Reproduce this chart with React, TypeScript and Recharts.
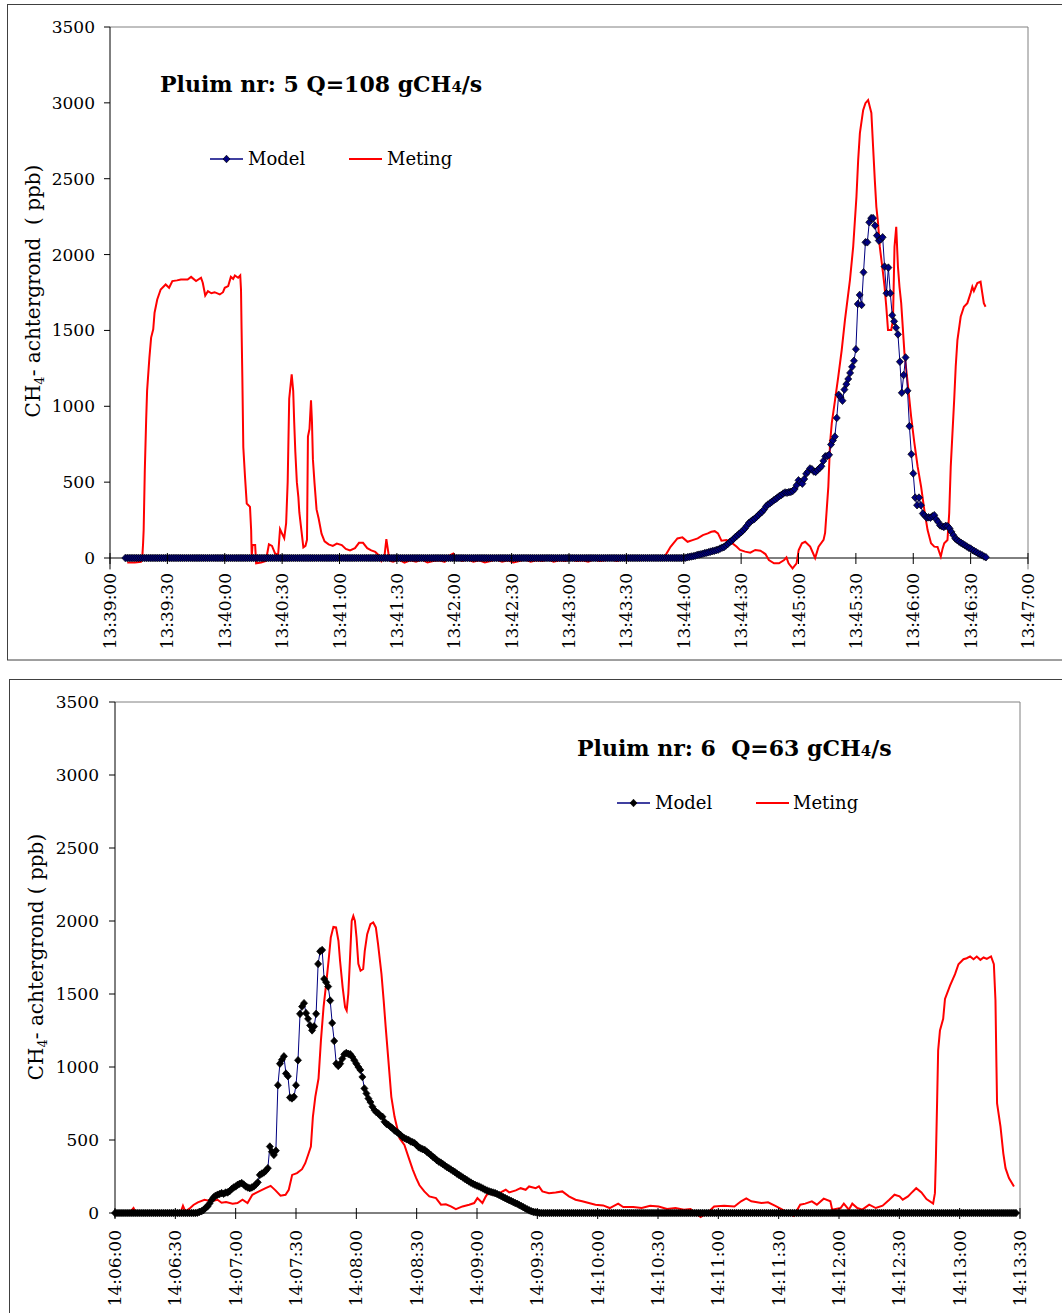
import { Line, LineChart, ReferenceLine, XAxis, YAxis } from 'recharts'

const FONT = '"DejaVu Serif", serif'

// y axis of both charts
const yTicks = [0, 500, 1000, 1500, 2000, 2500, 3000, 3500]

// ---- Pluim nr 5 ----
const ticks1 = [
  '13:39:00', '13:39:30', '13:40:00', '13:40:30', '13:41:00', '13:41:30', '13:42:00', '13:42:30', '13:43:00',
  '13:43:30', '13:44:00', '13:44:30', '13:45:00', '13:45:30', '13:46:00', '13:46:30', '13:47:00',
]
// model: one sample per second, first one 8 s after 13:39:00
const model1Start = 8
const model1 = [
  0,0,0,0,0,0,0,0,0,0,0,0,0,0,0,0,0,0,0,0,
  0,0,0,0,0,0,0,0,0,0,0,0,0,0,0,0,0,0,0,0,
  0,0,0,0,0,0,0,0,0,0,0,0,0,0,0,0,0,0,0,0,
  0,0,0,0,0,0,0,0,0,0,0,0,0,0,0,0,0,0,0,0,
  0,0,0,0,0,0,0,0,0,0,0,0,0,0,0,0,0,0,0,0,
  0,0,0,0,0,0,0,0,0,0,0,0,0,0,0,0,0,0,0,0,
  0,0,0,0,0,0,0,0,0,0,0,0,0,0,0,0,0,0,0,0,
  0,0,0,0,0,0,0,0,0,0,0,0,0,0,0,0,0,0,0,0,
  0,0,0,0,0,0,0,0,0,0,0,0,0,0,0,0,0,0,0,0,
  0,0,0,0,0,0,0,0,0,0,0,0,0,0,0,0,0,0,0,0,
  0,0,0,0,0,0,0,0,0,0,0,0,0,0,0,0,0,0,0,0,
  0,0,0,0,0,0,0,0,0,0,0,0,0,0,0,0,0,0,0,0,
  0,0,0,0,0,0,0,0,0,0,0,0,0,0,0,0,0,0,0,0,
  0,0,0,0,0,0,0,0,0,0,0,0,0,0,0,0,0,0,0,0,
  0,0,0,0,0,0,0,0,0,0,0,0,
  0, 2, 5, 8, 10, 12, 15, 20, 22, 25,
  28, 32, 35, 38, 42, 45, 48, 52, 55, 62,
  68, 72, 82, 92, 105, 114, 125, 138, 148, 160,
  170, 182, 195, 212, 230, 240, 250, 258, 270, 282,
  295, 305, 320, 340, 352, 360, 370, 380, 388, 398,
  408, 415, 425, 432, 430, 434, 436, 442, 455, 480,
  512, 500, 490, 520, 555, 570, 590, 585, 570, 568,
  580, 592, 605, 640, 670, 672, 680, 748, 775, 800,
  923, 1076, 1060, 1037, 1110, 1146, 1180, 1220, 1260, 1300,
  1376, 1674, 1734, 1668, 1883, 2081, 2081, 2213, 2240, 2240,
  2191, 2125, 2092, 2100, 2114, 1921, 1745, 1914, 1745, 1600,
  1560, 1518, 1474, 1294, 1089, 1206, 1322, 1102, 869, 684,
  557, 398, 348, 398, 348, 293, 280, 266, 268, 266,
  275, 282, 255, 238, 215, 209, 205, 212, 209, 195,
  172, 150, 128, 118, 108, 100, 92, 84, 76, 68,
  62, 52, 45, 38, 30, 24, 18, 10, 5,
]
// measurement: [seconds after 13:39:00, ppb]
const meting1: [number, number][] = [
  [9, -30], [13, -30], [16.2, -25], [16.8, -13], [17.3, 96], [17.6, 184], [18.2, 578], [18.9, 906], [19.4, 1103],
  [20.6, 1321], [21.5, 1453], [22.6, 1507], [23.3, 1617], [24.7, 1704], [26.5, 1770], [29.1, 1803], [30.9, 1781],
  [32.6, 1825], [35, 1830], [37.1, 1836], [40.6, 1836], [42.4, 1853], [45, 1825], [47.6, 1847], [48.5, 1814],
  [49.8, 1730], [51.2, 1759], [53, 1745], [54.7, 1752], [57.4, 1737], [59.1, 1752], [60, 1781], [61.8, 1792],
  [63.2, 1853], [64.4, 1840], [65.3, 1862], [67, 1847], [68.1, 1862], [68.5, 1770], [68.8, 1507], [69.2, 1190],
  [69.7, 731], [70.6, 534], [71.5, 359], [73.2, 337], [73.8, 184], [74.1, 9], [74.5, 85], [75.9, 85], [76.4, -35],
  [79, -30], [81.5, -20], [83.1, 90], [84.7, 80], [86.3, 30], [87.9, 20], [88.9, 190], [90, 160], [91.1, 130],
  [92.1, 230], [92.9, 500], [93.7, 1050], [95, 1210], [95.8, 1100], [96.3, 900], [96.9, 700], [97.7, 500],
  [98.5, 400], [99, 300], [100.1, 180], [101.1, 70], [102.2, 80], [103, 120], [103.5, 800], [104.3, 850],
  [105.1, 1040], [105.6, 900], [106.1, 650], [106.9, 500], [108, 320], [109.1, 260], [110.6, 160], [112.2, 110],
  [114.3, 90], [116.5, 80], [118.6, 95], [121.2, 85], [123.3, 60], [125.5, 50], [128.1, 65], [130.2, 100],
  [132.3, 100], [134.5, 65], [136.6, 50], [138.7, 40], [140.3, 20], [141.9, -20], [143.5, 10], [144.5, 125],
  [145.6, 30], [146.6, -20], [148, -25], [151, -10], [154, -30], [157, -15], [160, -25], [163, -10], [166, -30],
  [169, -20], [172, -15], [175, -25], [178, 20], [179.5, 30], [181, 0], [184, -20], [187, -10], [190, -25],
  [193, -15], [196, -30], [199, -20], [202, -10], [205, -25], [208, -15], [211, -30], [214, -20], [217, -10],
  [220, -25], [223, -15], [226, -20], [229, -10], [232, -25], [235, -15], [238, -20], [241, -10], [244, -20],
  [247, -15], [250, -25], [253, -10], [256, -20], [259, -15], [262, -10], [265, -20], [268, -10], [271, -15],
  [274, -5], [277, -15], [280, -10], [283, -5], [286, -10], [289.6, 0], [293.1, 74], [296.7, 129], [299.3, 136],
  [302, 107], [304.6, 118], [307.3, 129], [310, 151], [312.6, 162], [314.4, 173], [316.2, 177], [317.9, 162],
  [319.7, 114], [322.4, 118], [325, 101], [327.7, 74], [329.4, 53], [332.1, 42], [334.8, 35], [337.4, 53],
  [340.1, 48], [342.7, 26], [344.5, -13], [347.2, -35], [349.8, -35], [352.5, -13], [353.7, 4], [354.8, -35],
  [356.9, -68], [359, -35], [360.1, 53], [361.8, 97], [363.5, 107], [366.1, 75], [368.7, 0], [370.5, 75],
  [373.1, 119], [373.9, 165], [375.6, 470], [376.5, 757], [377.4, 889], [379.1, 1041], [380.8, 1195],
  [382.6, 1371], [384.3, 1569], [386.9, 1832], [388.6, 2052], [390.3, 2381], [391.2, 2623], [392.1, 2800],
  [393.8, 2952], [395, 2998], [396.4, 3018], [398.1, 2933], [399, 2711], [399.9, 2491], [400.7, 2315],
  [401.6, 2207], [402.5, 2052], [404.2, 1878], [405, 1788], [405.9, 1656], [406.8, 1503], [408.5, 1503],
  [409.4, 1568], [410.2, 2052], [411.1, 2183], [412, 1920], [412.8, 1788], [413.7, 1680], [415.4, 1350],
  [417.1, 1153], [418.9, 931], [420.6, 757], [422.3, 602], [424.1, 470], [425.8, 316], [427.5, 184], [429.3, 97],
  [431, 75], [432.7, 73], [434.4, 9], [435.3, 60], [436.2, 97], [437.9, 119], [438.8, 296], [439.6, 602],
  [440.5, 823], [441.4, 1041], [442.2, 1261], [443.1, 1437], [444.8, 1590], [446.5, 1656], [448.3, 1680],
  [450, 1746], [450.9, 1788], [451.7, 1760], [453.5, 1812], [455.2, 1821], [456.1, 1746], [456.9, 1680],
  [457.8, 1656],
]

// ---- Pluim nr 6 ----
const ticks2 = [
  '14:06:00', '14:06:30', '14:07:00', '14:07:30', '14:08:00', '14:08:30', '14:09:00', '14:09:30',
  '14:10:00', '14:10:30', '14:11:00', '14:11:30', '14:12:00', '14:12:30', '14:13:00', '14:13:30',
]
const model2Start = 0
const model2 = [
  0,0,0,0,0,0,0,0,0,0,0,0,0,0,0,0,0,0,0,0,
  0,0,0,0,0,0,0,0,0,0,0,0,0,0,0,0,0,0,0,0,
  0,
  2, 8, 12, 20, 35, 45, 65, 88, 107, 118,
  125, 130, 136, 132, 140, 141, 150, 164, 175, 182,
  193, 200, 205, 195, 182, 175, 170, 175, 182, 195,
  210, 261, 270, 277, 290, 307, 455, 420, 398, 427,
  875, 1023, 1050, 1073, 955, 937, 791, 785, 796, 875,
  1046, 1364, 1414, 1437, 1369, 1330, 1285, 1251, 1278, 1364,
  1706, 1792, 1801, 1603, 1580, 1551, 1455, 1301, 1178, 1023,
  1007, 1023, 1057, 1087, 1096, 1090, 1087, 1069, 1046, 1023,
  1000, 980, 932, 853, 819, 784, 760, 728, 705, 690,
  682, 665, 659, 625, 610, 603, 590, 580, 565, 557,
  545, 534, 520, 512, 505, 500, 490, 485, 478, 465,
  450, 443, 437, 432, 420, 409, 398, 385, 375, 362,
  352, 345, 335, 325, 315, 307, 298, 289, 280, 270,
  261, 252, 243, 234, 225, 216, 208, 200, 193, 187,
  182, 175, 168, 160, 154, 148, 144, 140, 136, 130,
  123, 116, 109, 102, 95, 88, 82, 75, 68, 63,
  55, 48, 40, 32, 25, 18, 12, 8, 5, 3,
  1,
  0,0,0,0,0,0,0,0,0,0,0,0,0,0,0,0,0,0,0,0,
  0,0,0,0,0,0,0,0,0,0,0,0,0,0,0,0,0,0,0,0,
  0,0,0,0,0,0,0,0,0,0,0,0,0,0,0,0,0,0,0,0,
  0,0,0,0,0,0,0,0,0,0,0,0,0,0,0,0,0,0,0,0,
  0,0,0,0,0,0,0,0,0,0,0,0,0,0,0,0,0,0,0,0,
  0,0,0,0,0,0,0,0,0,0,0,0,0,0,0,0,0,0,0,0,
  0,0,0,0,0,0,0,0,0,0,0,0,0,0,0,0,0,0,0,0,
  0,0,0,0,0,0,0,0,0,0,0,0,0,0,0,0,0,0,0,0,
  0,0,0,0,0,0,0,0,0,0,0,0,0,0,0,0,0,0,0,0,
  0,0,0,0,0,0,0,0,0,0,0,0,0,0,0,0,0,0,0,0,
  0,0,0,0,0,0,0,0,0,0,0,0,0,0,0,0,0,0,0,0,
  0,0,0,0,0,0,0,0,0,0,0,0,0,0,0,0,0,
]
// measurement: [seconds after 14:06:00, ppb]
const meting2: [number, number][] = [
  [0, 0], [3, 5], [6, 0], [8, 15], [9.2, 34], [10.5, 0], [14, 5], [18, 0], [22, 10], [26, 0], [30, 5], [32.5, 0],
  [33.8, 50], [35, 10], [37, 30], [39, 55], [41.2, 73], [44.5, 91], [47.8, 80], [51, 91], [53, 70], [55.2, 75],
  [58.5, 64], [60.9, 68], [63.4, 91], [65.9, 68], [68.3, 125], [71.6, 148], [74.9, 170], [77.4, 186], [79.8, 155],
  [82.3, 118], [84.8, 125], [86.4, 159], [88.1, 261], [90.5, 273], [93, 300], [94.6, 341], [96.3, 409], [97.4, 455],
  [98.4, 659], [99.6, 796], [101.2, 921], [102.4, 1182], [103.7, 1410], [105, 1569], [106.2, 1728], [107.3, 1887],
  [108.6, 1960], [109.9, 1956], [111.1, 1865], [111.9, 1728], [113.2, 1546], [114.4, 1410], [115.2, 1387],
  [116, 1501], [116.8, 1728], [117.7, 2001], [118.5, 2035], [119.3, 2001], [120.1, 1887], [121, 1706],
  [122.1, 1660], [123.4, 1671], [124.2, 1796], [125.4, 1910], [127, 1978], [128.4, 1990], [129.7, 1956],
  [130.8, 1842], [132.5, 1637], [133.6, 1455], [134.6, 1273], [135.8, 1069], [137.4, 796], [139, 659],
  [141.5, 512], [143.9, 466], [146.4, 364], [148.1, 296], [149.7, 240], [151.4, 190], [153.8, 148], [156.3, 114],
  [159.6, 102], [162.1, 57], [164.5, 60], [167, 45], [169.5, 27], [172.8, 45], [176.1, 57], [178.6, 68],
  [180.2, 102], [182.7, 68], [184.4, 114], [186, 148], [187.7, 125], [191, 136], [194.3, 159], [196, 141],
  [199.3, 155], [201.7, 170], [204.2, 159], [205.9, 182], [209.2, 170], [210.8, 182], [212.5, 148], [215.8, 136],
  [219.1, 141], [222.4, 148], [225.7, 114], [229, 91], [232.3, 80], [235.6, 68], [238.9, 57], [242.7, 52],
  [246, 34], [250.2, 64], [252.7, 41], [257.7, 41], [261.9, 34], [266.1, 50], [270.3, 45], [274.5, 27],
  [278.7, 34], [282.9, 23], [286.2, 27], [288.5, 0], [291.2, -27], [294.6, 0], [297.9, 45], [302.9, 50],
  [308, 45], [311.3, 80], [313.9, 100], [316.4, 80], [321.4, 68], [324.7, 73], [328.1, 50], [331.4, 27],
  [334.8, 0], [337.5, -20], [340.7, 57], [343.2, 64], [346.5, 80], [349, 57], [352.4, 98], [355.7, 80],
  [356.6, 23], [360.8, 34], [362.4, 64], [364.9, 23], [366.6, 64], [369.1, 34], [371.6, 23], [375, 57],
  [378.3, 34], [381.7, 50], [385, 91], [387.6, 125], [390.1, 114], [391.7, 91], [394.3, 114], [395.9, 136],
  [398.4, 170], [401, 141], [403.5, 95], [406.8, 64], [407.7, 136], [408.2, 386], [408.8, 773], [409.3, 1114],
  [410.2, 1250], [411.8, 1330], [412.7, 1466], [415.2, 1557], [417.7, 1636], [419.4, 1704], [421.9, 1738],
  [423.5, 1745], [425.2, 1757], [426.9, 1738], [428.5, 1757], [430.3, 1734], [431.9, 1750], [433.5, 1740],
  [435.6, 1757], [437, 1704], [437.8, 1455], [438.3, 1000], [438.6, 750], [440.3, 591], [441.7, 409],
  [442.8, 307], [444.5, 239], [447, 182],
]

const toSec = (s: string) => {
  const [h, m, x] = s.split(':').map(Number)
  return h * 3600 + m * 60 + x
}
const pad = (n: number) => String(n).padStart(2, '0')
const fmt = (sec: number) => `${Math.floor(sec / 3600)}:${pad(Math.floor(sec / 60) % 60)}:${pad(sec % 60)}`

const diamondPath = (cx: number, cy: number) =>
  `M${cx},${cy - 3.8}L${cx + 3.5},${cy}L${cx},${cy + 3.8}L${cx - 3.5},${cy}Z`

const diamond = (fill: string) => (p: any) => {
  const { cx, cy, index } = p
  if (cx == null || cy == null) return <g key={index} />
  return <path key={index} d={diamondPath(cx, cy)} fill={fill} stroke="#000" strokeWidth={0.7} />
}

function TimeTick({ x, payload, base, axisY, gap }: any) {
  const ty = axisY + gap
  return (
    <g>
      <line x1={x} x2={x} y1={axisY - 5} y2={axisY + 6} stroke="#000" />
      <text
        x={x}
        y={ty}
        transform={`rotate(-90 ${x} ${ty})`}
        textAnchor="end"
        dominantBaseline="central"
        fontSize={17}
        fontFamily={FONT}
        fill="#000"
      >
        {fmt(base + payload.value)}
      </text>
    </g>
  )
}

interface PlumeProps {
  ticks: string[]
  model: number[]
  modelStart: number
  meting: [number, number][]
  markerFill: string
  width: number
  height: number
  top: number
  right: number
  zeroY: number // y of the 0 line inside the svg
  yMin: number // room below 0 for the measured dips
  yWidth: number
  tickMargin: number
  labelGap: number
}

function PlumeChart(p: PlumeProps) {
  const base = toSec(p.ticks[0])
  const xTicks = p.ticks.map(t => toSec(t) - base)
  const xMax = xTicks[xTicks.length - 1]
  const modelData = p.model.map((v, i) => ({ t: p.modelStart + i, v }))
  const metingData = p.meting.map(([t, v]) => ({ t, v }))
  const plotH = ((p.zeroY - p.top) * (3500 - p.yMin)) / 3500
  const xHeight = p.height - p.top - plotH

  return (
    <LineChart width={p.width} height={p.height} margin={{ top: p.top, right: p.right, bottom: 0, left: 0 }}>
      <XAxis
        type="number"
        dataKey="t"
        domain={[0, xMax]}
        ticks={xTicks}
        interval={0}
        height={xHeight}
        axisLine={false}
        tickLine={false}
        tickSize={6}
        tick={(tp: any) => <TimeTick {...tp} base={base} axisY={p.zeroY} gap={p.labelGap} />}
      />
      <YAxis
        type="number"
        domain={[p.yMin, 3500]}
        ticks={yTicks}
        interval={0}
        width={p.yWidth}
        axisLine={false}
        tickLine={{ stroke: '#000' }}
        tickSize={6}
        tickMargin={p.tickMargin}
        tick={{ fontSize: 17, fill: '#000', fontFamily: FONT }}
      />
      <ReferenceLine y={3500} stroke="#808080" />
      <ReferenceLine x={xMax} stroke="#808080" segment={[{ x: xMax, y: 0 }, { x: xMax, y: 3500 }]} />
      <ReferenceLine y={0} stroke="#000" />
      <ReferenceLine x={0} stroke="#000" segment={[{ x: 0, y: 0 }, { x: 0, y: 3500 }]} />
      <Line
        data={metingData}
        dataKey="v"
        type="linear"
        stroke="#ff0000"
        strokeWidth={2}
        dot={false}
        activeDot={false}
        isAnimationActive={false}
      />
      <Line
        data={modelData}
        dataKey="v"
        type="linear"
        stroke="#000080"
        strokeWidth={1}
        dot={diamond(p.markerFill)}
        activeDot={false}
        isAnimationActive={false}
      />
    </LineChart>
  )
}

const LegendDiamond = ({ x, y, fill }: { x: number; y: number; fill: string }) => (
  <path d={diamondPath(x, y)} fill={fill} stroke="#000" strokeWidth={0.7} />
)

export default function App() {
  return (
    <div style={{ position: 'absolute', left: 0, top: 0, width: 1062, height: 1313, overflow: 'hidden', background: '#fff' }}>
      <div style={{ position: 'absolute', left: 0, top: 0 }}>
        <PlumeChart
          ticks={ticks1}
          model={model1}
          modelStart={model1Start}
          meting={meting1}
          markerFill="#000080"
          width={1062}
          height={665}
          top={27}
          right={34}
          zeroY={558}
          yMin={-75}
          yWidth={110}
          tickMargin={9}
          labelGap={15}
        />
      </div>
      <div style={{ position: 'absolute', left: 0, top: 670 }}>
        <PlumeChart
          ticks={ticks2}
          model={model2}
          modelStart={model2Start}
          meting={meting2}
          markerFill="#000000"
          width={1062}
          height={643}
          top={32}
          right={42}
          zeroY={543}
          yMin={-35}
          yWidth={115}
          tickMargin={10}
          labelGap={17}
        />
      </div>
      <svg
        width={1062}
        height={1313}
        style={{ position: 'absolute', left: 0, top: 0, pointerEvents: 'none' }}
        fontFamily={FONT}
      >
        <rect x={7.5} y={4.5} width={1100} height={655.5} fill="none" stroke="#404040" />
        <rect x={9.5} y={679.5} width={1100} height={700} fill="none" stroke="#404040" />

        <text x={160} y={92} fontSize={22} fontWeight="bold" fill="#000" style={{ whiteSpace: 'pre' }}>
          Pluim nr: 5 Q=108 gCH<tspan fontSize={15}>4</tspan>/s
        </text>
        <line x1={210} x2={243} y1={159} y2={159} stroke="#000080" strokeWidth={1.5} />
        <LegendDiamond x={226.5} y={159} fill="#000080" />
        <text x={248} y={165} fontSize={18} fill="#000">Model</text>
        <line x1={349} x2={382} y1={159} y2={159} stroke="#ff0000" strokeWidth={2} />
        <text x={387} y={165} fontSize={18} fill="#000">Meting</text>
        <text x={40} y={291} transform="rotate(-90 40 291)" textAnchor="middle" fontSize={20} fill="#000" style={{ whiteSpace: 'pre' }}>
          CH<tspan fontSize={13} dy={4}>4</tspan><tspan dy={-4}>- achtergrond  ( ppb)</tspan>
        </text>

        <text x={577} y={756} fontSize={22} fontWeight="bold" fill="#000" style={{ whiteSpace: 'pre' }}>
          Pluim nr: 6  Q=63 gCH<tspan fontSize={15}>4</tspan>/s
        </text>
        <line x1={617} x2={650} y1={803} y2={803} stroke="#000080" strokeWidth={1.5} />
        <LegendDiamond x={633.5} y={803} fill="#000000" />
        <text x={655} y={809} fontSize={18} fill="#000">Model</text>
        <line x1={756} x2={789} y1={803} y2={803} stroke="#ff0000" strokeWidth={2} />
        <text x={793} y={809} fontSize={18} fill="#000">Meting</text>
        <text x={43} y={957} transform="rotate(-90 43 957)" textAnchor="middle" fontSize={20} fill="#000" style={{ whiteSpace: 'pre' }}>
          CH<tspan fontSize={13} dy={4}>4</tspan><tspan dy={-4}>- achtergrond ( ppb)</tspan>
        </text>
      </svg>
    </div>
  )
}
